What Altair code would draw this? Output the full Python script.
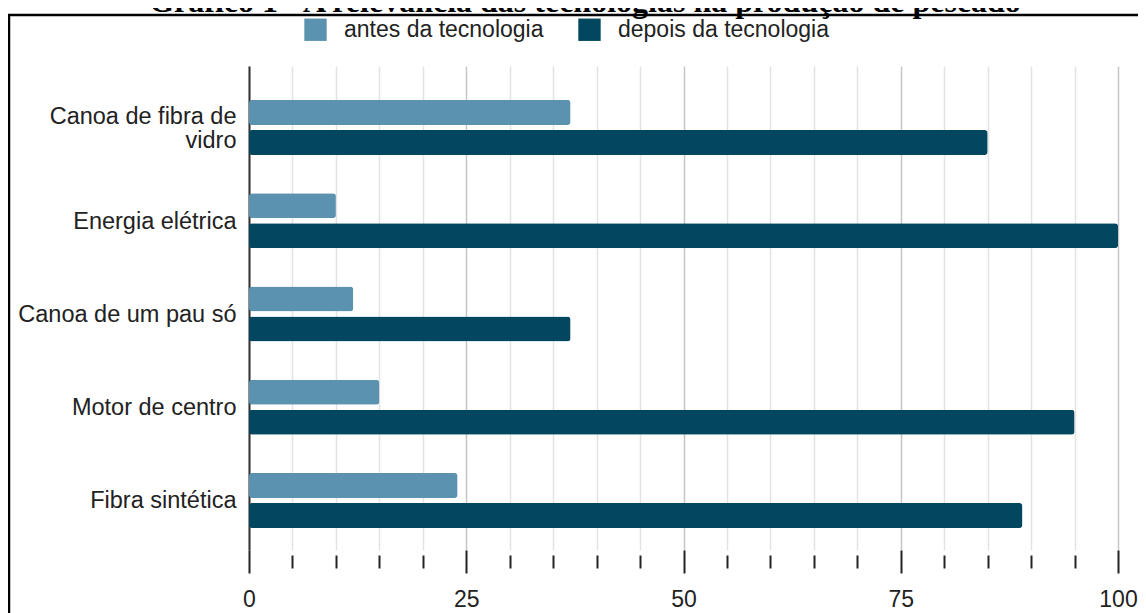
import altair as alt
import pandas as pd

title_text = "Gráfico 1 - A relevância das tecnologias na produção de pescado"
categories = ["Canoa de fibra de vidro", "Energia elétrica", "Canoa de um pau só",
              "Motor de centro", "Fibra sintética"]
series = ["antes da tecnologia", "depois da tecnologia"]
antes = [37, 10, 12, 15, 24]
depois = [85, 100, 37, 95, 89]
colors = ["#5a92b0", "#02465f"]
major_ticks = [0, 25, 50, 75, 100]
minor_ticks = [5, 10, 15, 20, 30, 35, 40, 45, 55, 60, 65, 70, 80, 85, 90, 95]
grid_values = sorted(major_ticks + minor_ticks)

rows = []
for c, a, d in zip(categories, antes, depois):
    rows.append({"cat": c, "serie": series[0], "v": a})
    rows.append({"cat": c, "serie": series[1], "v": d})
df = pd.DataFrame(rows)

FONT = "Liberation Sans"
FS = 23
xscale = alt.Scale(domain=[0, 100], nice=False)
major_test = "datum.value % 25 === 0"
long_test = "length(datum.label) > 20"

bars = alt.Chart(df).mark_bar(cornerRadius=3).encode(
    x=alt.X("v:Q", scale=xscale, axis=alt.Axis(
        title=None, orient="bottom", values=grid_values, domain=False, grid=True,
        gridColor={"condition": {"test": major_test, "value": "#c6c6c6"}, "value": "#e3e3e3"},
        gridWidth=1.5,
        ticks=True, tickSize=23, tickColor="#222222", tickWidth=2,
        tickOpacity={"condition": {"test": major_test, "value": 1}, "value": 0},
        labelExpr="datum.value % 25 === 0 ? datum.label : ''",
        labelFlush=False, labelOverlap=False,
        labelFont=FONT, labelFontSize=FS, labelColor="#222222", labelPadding=15)),
    y=alt.Y("cat:N", sort=categories,
            scale=alt.Scale(paddingInner=0.41, paddingOuter=0.30, align=0.607),
            axis=alt.Axis(title=None, domain=True, domainColor="#333333", domainWidth=2,
                          ticks=False, grid=False, labelFont=FONT, labelFontSize=23.5,
                          labelColor="#222222", labelPadding=13, labelLimit=400,
                          labelLineHeight=24,
                          labelOffset={"condition": {"test": long_test, "value": -10}, "value": 1},
                          labelExpr="length(datum.label) > 20 ? ['Canoa de fibra de', 'vidro'] : datum.label")),
    yOffset=alt.YOffset("serie:N", sort=series,
                        scale=alt.Scale(paddingInner=0.17, paddingOuter=0)),
    color=alt.Color("serie:N", sort=series, scale=alt.Scale(domain=series, range=colors),
                    legend=alt.Legend(title=None, orient="none", legendX=55, legendY=-48,
                                      direction="horizontal", symbolType="square",
                                      symbolSize=500, symbolStrokeWidth=0, symbolOpacity=1,
                                      labelFont=FONT, labelFontSize=FS, labelColor="#222222",
                                      labelOffset=17, columnPadding=34, padding=0,
                                      labelLimit=400)),
)

minor = alt.Chart(df).mark_point(opacity=0).encode(
    x=alt.X("v:Q", scale=xscale, axis=alt.Axis(
        title=None, orient="bottom", values=minor_ticks, domain=False, grid=False,
        labels=False, ticks=True, tickSize=13, tickColor="#222222", tickWidth=2, offset=5)),
)

border = alt.Chart(alt.Data(values=[{}])).mark_rect(
    fill="transparent", stroke="black", strokeWidth=2.5).encode(
    x=alt.value(-240), x2=alt.value(960), y=alt.value(-51), y2=alt.value(640))

title = alt.Chart(alt.Data(values=[{"t": title_text}])).mark_text(
    font="Liberation Serif", fontWeight="bold", fontSize=32, align="center",
    baseline="alphabetic", color="black").encode(
    x=alt.value(336), y=alt.value(-54), text="t:N")

chart = alt.layer(bars, minor, border, title).resolve_axis(x="independent").properties(
    width=869, height=484,
    autosize=alt.AutoSizeParams(type="none"),
    padding={"left": 241, "top": 58, "right": 20, "bottom": 63},
    background="white",
).configure_view(stroke=None)

chart.save("out.html", embed_options={"renderer": "svg", "actions": False})
